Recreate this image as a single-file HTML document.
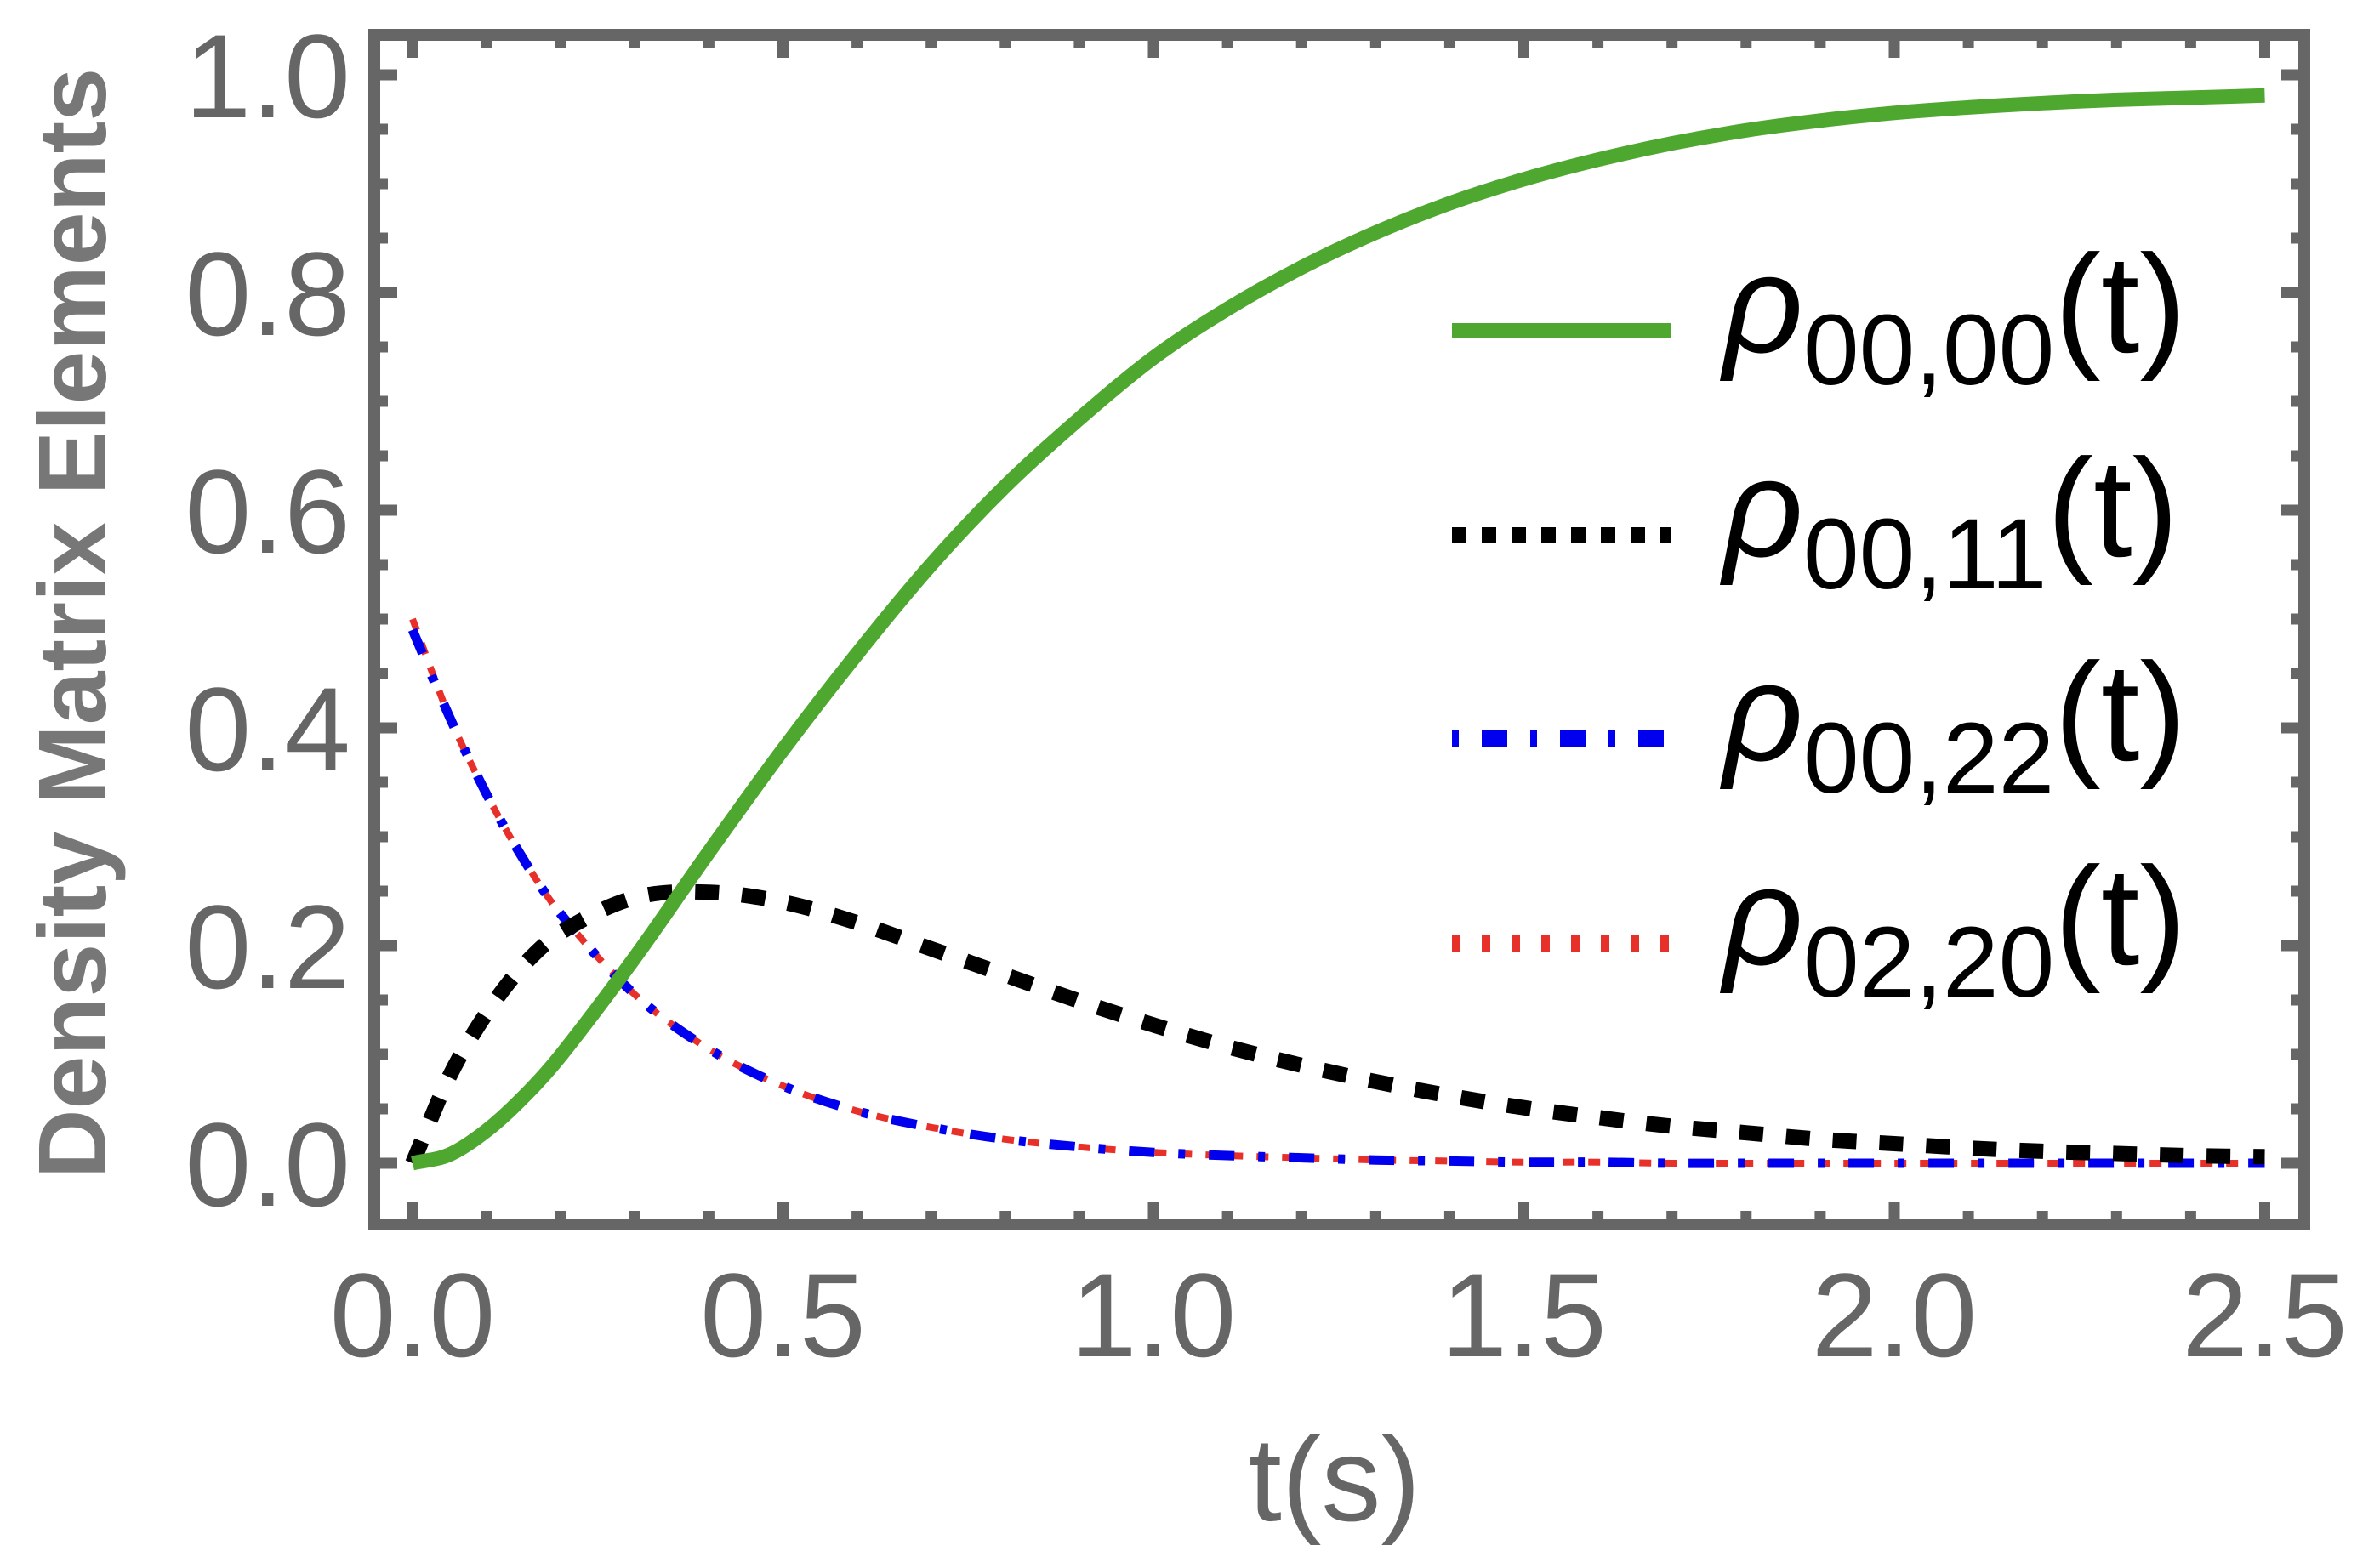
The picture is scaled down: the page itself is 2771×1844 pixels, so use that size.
<!DOCTYPE html>
<html><head><meta charset="utf-8">
<style>
html,body{margin:0;padding:0;background:#fff;}
svg{display:block;}
text{font-family:"Liberation Sans",sans-serif;}
</style></head>
<body>
<svg id="chart" width="2771" height="1844" viewBox="0 0 2771 1844" xmlns="http://www.w3.org/2000/svg">
<rect x="0" y="0" width="2771" height="1844" fill="#fff"/>
<g id="series"></g>
<g id="axes"></g>
<text x="1569" y="1788" font-size="140" fill="#666" text-anchor="middle">t(s)</text>
<text transform="translate(124,733) rotate(-90)" font-size="113" font-weight="bold" fill="#777" text-anchor="middle">Density Matrix Elements</text>
<g id="legend"></g>
</svg>
<script>
const tValues = [0,0.05,0.1,0.15,0.2,0.3,0.4,0.5,0.6,0.7,0.8,0.9,1.0,1.1,1.2,1.3,1.4,1.5,1.6,1.7,1.8,1.9,2.0,2.1,2.2,2.3,2.4,2.5];
const rho0000 = [0,0.008,0.030,0.061,0.099,0.189,0.286,0.380,0.468,0.550,0.622,0.684,0.740,0.785,0.823,0.855,0.882,0.904,0.922,0.937,0.949,0.958,0.965,0.970,0.974,0.977,0.979,0.981];
const rho0011 = [0,0.080,0.138,0.182,0.212,0.244,0.249,0.240,0.221,0.197,0.173,0.149,0.127,0.107,0.090,0.075,0.062,0.051,0.042,0.034,0.028,0.022,0.018,0.014,0.011,0.009,0.007,0.006];
const rho0022 = [0.49,0.41,0.339,0.279,0.229,0.155,0.105,0.071,0.048,0.033,0.022,0.015,0.010,0.007,0.005,0.003,0.002,0.001,0.001,0,0,0,0,0,0,0,0,0];
const rho0220 = [0.5,0.41,0.339,0.279,0.229,0.155,0.105,0.071,0.048,0.033,0.022,0.015,0.010,0.007,0.005,0.003,0.002,0.001,0.001,0,0,0,0,0,0,0,0,0];
const xTickLabels = ["0.0","0.5","1.0","1.5","2.0","2.5"];
const yTickLabels = ["0.0","0.2","0.4","0.6","0.8","1.0"];
const legendSubs = ["00,00","00,11","00,22","02,20"];

const NS="http://www.w3.org/2000/svg";
const X0=485, XS=871, Y0=1368, YS=1280;
function xs(t){return X0+t*XS;}
function ys(v){return Y0-v*YS;}
function mk(tag,attrs,parent){const e=document.createElementNS(NS,tag);for(const k in attrs)e.setAttribute(k,attrs[k]);parent.appendChild(e);return e;}
function pathFor(vals){
  const p=tValues.map((t,i)=>[xs(t),ys(vals[i])]);
  let d="M"+p[0][0]+","+p[0][1];
  for(let i=0;i<p.length-1;i++){
    const a=p[Math.max(0,i-1)],b=p[i],c=p[i+1],e=p[Math.min(p.length-1,i+2)];
    const h=c[0]-b[0];
    const m1=(c[1]-a[1])/(c[0]-a[0]||1), m2=(e[1]-b[1])/(e[0]-b[0]||1);
    const c1=[b[0]+h/3,b[1]+m1*h/3];
    const c2=[c[0]-h/3,c[1]-m2*h/3];
    d+=" C"+c1[0].toFixed(1)+","+c1[1].toFixed(1)+" "+c2[0].toFixed(1)+","+c2[1].toFixed(1)+" "+c[0].toFixed(1)+","+c[1].toFixed(1);
  }
  return d;
}
const sg=document.getElementById('series');
const defs=[
 {vals:rho0220,color:"#e8302a",w:8,dash:"14 16",name:"series-rho-02-20"},
 {vals:rho0022,color:"#0000ee",w:11,dash:"30 28 8 28",name:"series-rho-00-22"},
 {vals:rho0011,color:"#000",w:18,dash:"28 27",name:"series-rho-00-11"},
 {vals:rho0000,color:"#4ea72e",w:17,dash:"",name:"series-rho-00-00"}
];
defs.forEach(s=>{
  const el=mk('path',{d:pathFor(s.vals),fill:"none",stroke:s.color,"stroke-width":s.w},sg);
  if(s.dash)el.setAttribute('stroke-dasharray',s.dash);
  
  
});
const ag=document.getElementById('axes');
const fr=mk('rect',{x:440,y:41,width:2269,height:1399,fill:"none",stroke:"#666","stroke-width":14},ag);


const IL=447,IR=2702,IT=48,IB=1433;
for(let i=0;i<=25;i++){
  const t=i/10, major=(i%5===0), L=major?20:9, x=xs(t);
  const b=mk('line',{x1:x,x2:x,y1:IB,y2:IB-L,stroke:"#666","stroke-width":13},ag);
  
  
  const tp=mk('line',{x1:x,x2:x,y1:IT,y2:IT+L,stroke:"#666","stroke-width":13},ag);
  
  
}
for(let i=0;i<=20;i++){
  const v=i/20, major=(i%4===0), L=major?20:9, y=ys(v);
  const l=mk('line',{x1:IL,x2:IL+L,y1:y,y2:y,stroke:"#666","stroke-width":13},ag);
  
  
  const r=mk('line',{x1:IR,x2:IR-L,y1:y,y2:y,stroke:"#666","stroke-width":13},ag);
  
  
}
xTickLabels.forEach((s,i)=>{
  const el=mk('text',{x:xs(i*0.5),y:1595,"font-size":140,fill:"#666","text-anchor":"middle"},ag);
  el.textContent=s;
  
  
});
yTickLabels.forEach((s,i)=>{
  const el=mk('text',{x:412,y:ys(i*0.2)+50,"font-size":140,fill:"#666","text-anchor":"end"},ag);
  el.textContent=s;
  
  
});
const lg=document.getElementById('legend');
const legStyles=[
 {color:"#4ea72e",w:18,dash:""},
 {color:"#000",w:18,dash:"17 18"},
 {color:"#0000ee",w:20,dash:"8 27 30 27"},
 {color:"#e8302a",w:20,dash:"10 25"}
];
legendSubs.forEach((sub,i)=>{
  const y=389+i*240, st=legStyles[i];
  const ln=mk('line',{x1:1707,x2:1965,y1:y,y2:y,stroke:st.color,"stroke-width":st.w},lg);
  if(st.dash)ln.setAttribute('stroke-dasharray',st.dash);
  
  
  const tx=mk('text',{x:2026,y:y+25,"font-size":164,fill:"#000"},lg);
  
  
  const r=mk('tspan',{"font-style":"italic"},tx); r.textContent="ρ";
  const s=mk('tspan',{"font-size":118,dy:38},tx); s.textContent=sub;
  const p=mk('tspan',{dy:-38},tx); p.textContent="(t)";
});
</script>
</body></html>
